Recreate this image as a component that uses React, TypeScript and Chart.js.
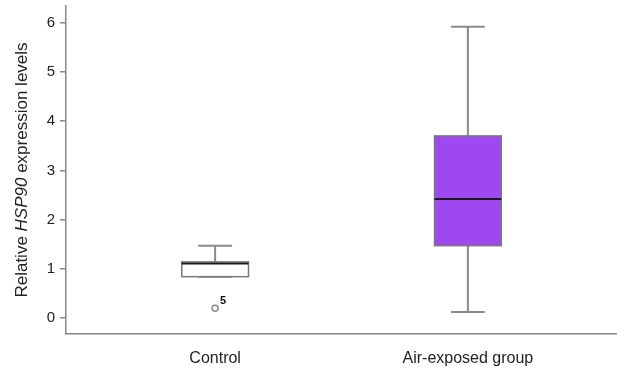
import React, { useEffect, useRef } from "react";
import { Chart, registerables } from "chart.js";

Chart.register(...registerables);

const categories = ["Control", "Air-exposed group"];
const whiskerLow = [0.84, 0.12];
const q1 = [0.84, 1.47];
const median = [1.11, 2.42];
const q3 = [1.14, 3.7];
const whiskerHigh = [1.47, 5.92];
const outlierX = [0];
const outlierY = [0.2];
const outlierLabels = ["5"];
const yTicks = [0, 1, 2, 3, 4, 5, 6];

const BOX_HALF = 0.132;
const CAP_HALF = 0.067;
const boxFills = ["#ffffff", "#9f47f0"];
const FONT = "'Liberation Sans', Arial, sans-serif";

const zeroPad = (s: any) => {
  s.paddingTop = 0;
  s.paddingBottom = 0;
  s.paddingLeft = 0;
  s.paddingRight = 0;
};

const boxPlugin = {
  id: "boxes",
  beforeDatasetsDraw(chart: any) {
    const { ctx } = chart;
    const xs = chart.scales.x;
    const ys = chart.scales.y;
    ctx.save();
    categories.forEach((_, i) => {
      const cx = xs.getPixelForValue(i);
      const bl = xs.getPixelForValue(i - BOX_HALF);
      const br = xs.getPixelForValue(i + BOX_HALF);
      const cl = xs.getPixelForValue(i - CAP_HALF);
      const cr = xs.getPixelForValue(i + CAP_HALF);
      const yLow = ys.getPixelForValue(whiskerLow[i]);
      const yHigh = ys.getPixelForValue(whiskerHigh[i]);
      const yQ1 = ys.getPixelForValue(q1[i]);
      const yQ3 = ys.getPixelForValue(q3[i]);
      const yMed = ys.getPixelForValue(median[i]);
      ctx.strokeStyle = "#8a8a8a";
      ctx.lineWidth = 2;
      ctx.beginPath();
      ctx.moveTo(cx, yHigh);
      ctx.lineTo(cx, yQ3);
      ctx.moveTo(cx, yQ1);
      ctx.lineTo(cx, yLow);
      ctx.moveTo(cl, yHigh);
      ctx.lineTo(cr, yHigh);
      ctx.moveTo(cl, yLow);
      ctx.lineTo(cr, yLow);
      ctx.stroke();
      ctx.fillStyle = boxFills[i];
      ctx.fillRect(bl, yQ3, br - bl, yQ1 - yQ3);
      ctx.strokeStyle = "#7a7a7a";
      ctx.lineWidth = 1.5;
      ctx.strokeRect(bl, yQ3, br - bl, yQ1 - yQ3);
      ctx.strokeStyle = "#1a1a1a";
      ctx.lineWidth = 2;
      ctx.beginPath();
      ctx.moveTo(bl, yMed);
      ctx.lineTo(br, yMed);
      ctx.stroke();
    });
    ctx.restore();
  },
  afterDatasetsDraw(chart: any) {
    const { ctx } = chart;
    const xs = chart.scales.x;
    const ys = chart.scales.y;
    ctx.save();
    ctx.fillStyle = "#111";
    ctx.font = `bold 11px ${FONT}`;
    ctx.textAlign = "left";
    ctx.textBaseline = "alphabetic";
    outlierLabels.forEach((t, i) => {
      const px = xs.getPixelForValue(outlierX[i]);
      const py = ys.getPixelForValue(outlierY[i]);
      ctx.fillText(t, px + 5, py - 4);
    });
    ctx.restore();
  },
  afterDraw(chart: any) {
    const { ctx } = chart;
    const parts = [
      { t: "Relative ", f: `17px ${FONT}` },
      { t: "HSP90", f: `italic 17px ${FONT}` },
      { t: " expression levels", f: `17px ${FONT}` },
    ];
    ctx.save();
    let total = 0;
    const widths = parts.map((p) => {
      ctx.font = p.f;
      const w = ctx.measureText(p.t).width;
      total += w;
      return w;
    });
    ctx.translate(22, 170);
    ctx.rotate(-Math.PI / 2);
    ctx.fillStyle = "#222";
    ctx.textBaseline = "middle";
    ctx.textAlign = "left";
    let x = -total / 2;
    parts.forEach((p, i) => {
      ctx.font = p.f;
      ctx.fillText(p.t, x, 0);
      x += widths[i];
    });
    ctx.restore();
  },
};

export default function App() {
  const ref = useRef<HTMLCanvasElement>(null);
  useEffect(() => {
    document.body.style.margin = "0";
    const chart = new Chart(ref.current as HTMLCanvasElement, {
      type: "scatter",
      data: {
        datasets: [
          {
            data: outlierX.map((x, i) => ({ x, y: outlierY[i] })),
            pointRadius: 3,
            pointHoverRadius: 3,
            pointBorderWidth: 1.5,
            pointBorderColor: "#8a8a8a",
            pointBackgroundColor: "#ffffff",
          },
        ],
      },
      options: {
        animation: false,
        responsive: false,
        layout: { autoPadding: false, padding: { top: 6, right: 0, left: 0, bottom: 0 } },
        plugins: { legend: { display: false }, tooltip: { enabled: false } },
        scales: {
          x: {
            type: "linear",
            min: -0.59,
            max: 1.59,
            afterFit: (s: any) => {
              s.height = 36;
              zeroPad(s);
            },
            afterBuildTicks: (s: any) => {
              s.ticks = categories.map((_, i) => ({ value: i }));
            },
            grid: { display: true, drawOnChartArea: false, drawTicks: false },
            border: { display: true, color: "#888", width: 1.5 },
            ticks: {
              padding: 15,
              color: "#222",
              font: { family: FONT, size: 16 },
              callback: (v: any) => categories[v] ?? "",
            },
          },
          y: {
            type: "linear",
            min: -0.325,
            max: 6.34,
            afterFit: (s: any) => {
              s.width = 66;
              zeroPad(s);
            },
            afterBuildTicks: (s: any) => {
              s.ticks = yTicks.map((v) => ({ value: v }));
            },
            grid: {
              display: true,
              drawOnChartArea: false,
              drawTicks: true,
              tickLength: 6,
              color: "#888",
              lineWidth: 1.5,
            },
            border: { display: true, color: "#888", width: 1.5 },
            ticks: {
              padding: 5,
              color: "#222",
              font: { family: FONT, size: 15 },
            },
          },
        },
      },
      plugins: [boxPlugin],
    } as any);
    return () => chart.destroy();
  }, []);
  return <canvas ref={ref} width={617} height={370} style={{ display: "block" }} />;
}
